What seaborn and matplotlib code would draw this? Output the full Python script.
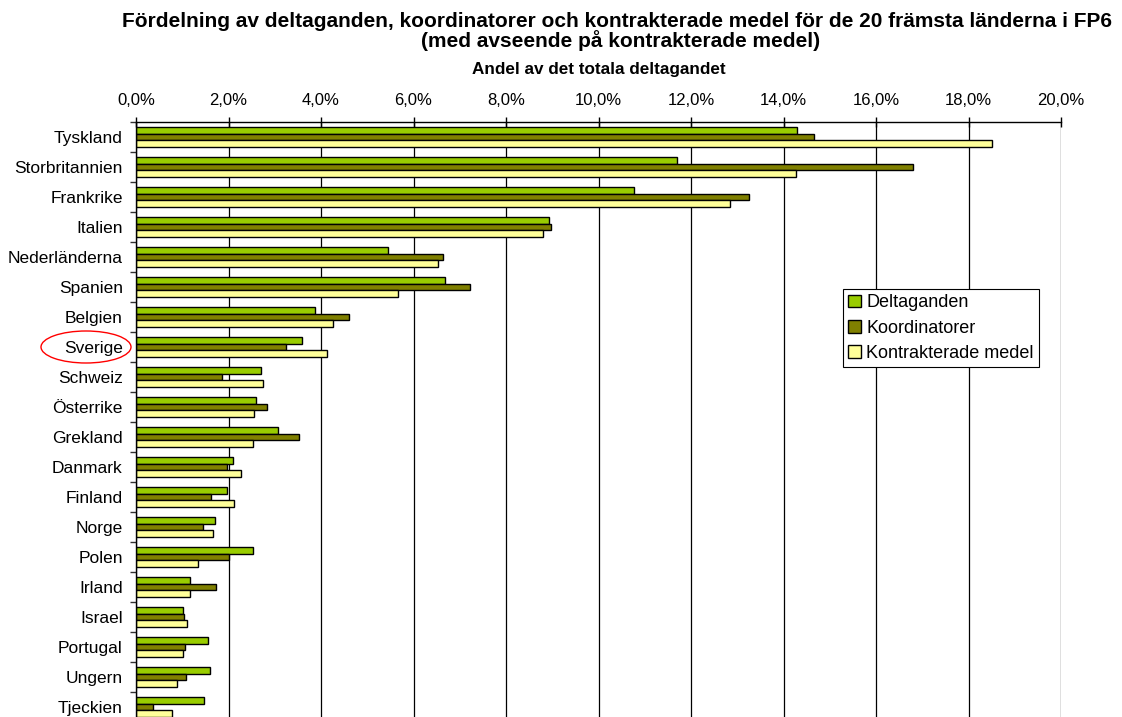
import matplotlib
matplotlib.use("Agg")
import matplotlib.pyplot as plt
from matplotlib.patches import Ellipse
from matplotlib.ticker import FuncFormatter, MultipleLocator, FixedLocator
import seaborn as sns
import pandas as pd

countries = ["Tyskland", "Storbritannien", "Frankrike", "Italien", "Nederländerna",
             "Spanien", "Belgien", "Sverige", "Schweiz", "Österrike", "Grekland",
             "Danmark", "Finland", "Norge", "Polen", "Irland", "Israel", "Portugal",
             "Ungern", "Tjeckien"]
series_names = ["Deltaganden", "Koordinatorer", "Kontrakterade medel"]
deltaganden = [14.29, 11.70, 10.77, 8.92, 5.45, 6.68, 3.86, 3.59, 2.70, 2.59,
               3.06, 2.10, 1.97, 1.71, 2.54, 1.17, 1.02, 1.55, 1.59, 1.46]
koordinatorer = [14.67, 16.81, 13.25, 8.98, 6.64, 7.23, 4.60, 3.25, 1.85, 2.83,
                 3.53, 1.96, 1.63, 1.44, 2.00, 1.72, 1.04, 1.05, 1.08, 0.37]
kontrakterade = [18.50, 14.28, 12.84, 8.80, 6.54, 5.66, 4.26, 4.12, 2.75, 2.56,
                 2.54, 2.26, 2.11, 1.67, 1.33, 1.17, 1.10, 1.01, 0.89, 0.78]
colors = ["#99CC00", "#808000", "#FFFF99"]

title_1 = "Fördelning av deltaganden, koordinatorer och kontrakterade medel för de 20 främsta länderna i FP6"
title_2 = "(med avseende på kontrakterade medel)"
subtitle = "Andel av det totala deltagandet"

rows = []
for name, vals in zip(series_names, [deltaganden, koordinatorer, kontrakterade]):
    for c, v in zip(countries, vals):
        rows.append({"Land": c, "Serie": name, "Andel": v})
df = pd.DataFrame(rows)

sns.set_theme(style="white")
plt.rcParams["font.family"] = ["Liberation Sans", "DejaVu Sans"]
for k in ["text.color", "axes.labelcolor", "xtick.color", "ytick.color"]:
    plt.rcParams[k] = "black"

fig = plt.figure(figsize=(11.22, 7.17), dpi=100)
ax = fig.add_axes([136 / 1122, 1 - 722 / 717, 925 / 1122, 600 / 717])

sns.barplot(data=df, y="Land", x="Andel", hue="Serie", order=countries,
            hue_order=series_names, palette=colors, orient="h", width=0.667,
            edgecolor="black", linewidth=1.0, ax=ax, legend=True, saturation=1)

ax.set_xlim(0, 20)
ax.set_ylim(19.5, -0.5)
ax.xaxis.tick_top()
ax.xaxis.set_major_locator(MultipleLocator(2))
ax.xaxis.set_major_formatter(FuncFormatter(lambda v, p: f"{v:.1f}%".replace(".", ",")))
ax.tick_params(axis="x", direction="inout", length=7, width=1, color="black",
               labelsize=12, pad=6.5, top=True, bottom=False)
ax.tick_params(axis="y", which="major", length=0, labelsize=12.5, pad=9.5)
ax.yaxis.set_minor_locator(FixedLocator([i - 0.5 for i in range(21)]))
ax.tick_params(axis="y", which="minor", length=4, width=1, color="#333333", left=True)
ax.set_xlabel("")
ax.set_ylabel("")
ax.grid(axis="x", color="black", linewidth=0.9)
ax.grid(axis="y", visible=False)
ax.set_axisbelow(True)
for s in ["right", "bottom"]:
    ax.spines[s].set_visible(False)
for s in ["left", "top"]:
    ax.spines[s].set_color("black")
    ax.spines[s].set_linewidth(1)

leg = ax.legend(loc="upper left", bbox_to_anchor=((843 - 136) / 925, (722 - 289) / 600),
                frameon=True, fancybox=False, edgecolor="black", fontsize=13,
                handlelength=0.7, handleheight=0.7, handletextpad=0.3,
                borderpad=0.3, labelspacing=0.45, framealpha=1, borderaxespad=0)
leg.get_frame().set_linewidth(0.8)
for h in leg.legend_handles:
    h.set_edgecolor("black")
    h.set_linewidth(1)

fig.text(617 / 1122, 1 - 27 / 717, title_1, ha="center", va="baseline",
         fontsize=15, fontweight="bold")
fig.text(621 / 1122, 1 - 47 / 717, title_2, ha="center", va="baseline",
         fontsize=15, fontweight="bold")
fig.text(599 / 1122, 1 - 74 / 717, subtitle, ha="center", va="baseline",
         fontsize=12.3, fontweight="bold")

ell = Ellipse((86 / 1122, 1 - 347 / 717), 90 / 1122, 32 / 717,
              transform=fig.transFigure, fill=False, edgecolor="red", linewidth=1)
fig.patches.append(ell)

fig.savefig("out.png", dpi=100)
